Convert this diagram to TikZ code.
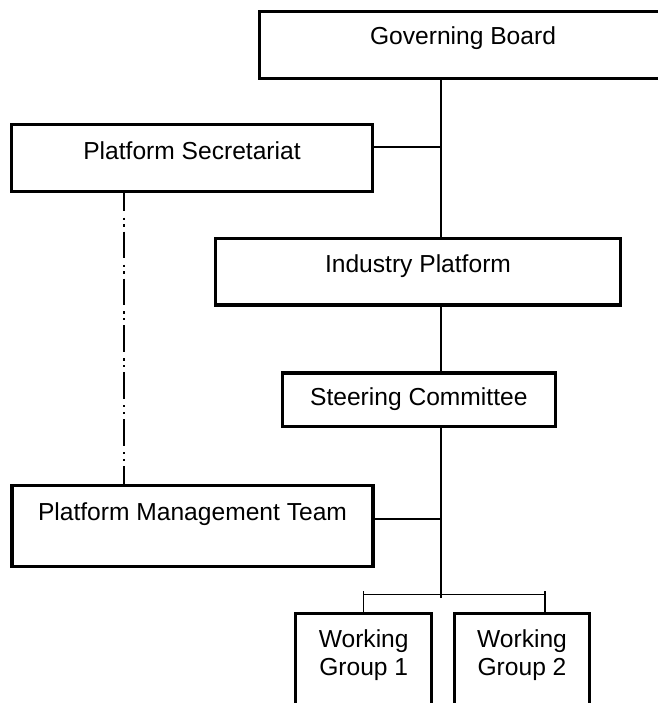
\documentclass[tikz,border=0pt]{standalone}
\usepackage{fontspec}
\setmainfont{Liberation Sans}
\begin{document}
\begin{tikzpicture}
  [x=1pt,y=-1pt,
   every node/.style={inner sep=0pt,anchor=base,font=\fontsize{24.6}{27.5}\selectfont},
   box/.style={draw,line width=3.4pt},
   link/.style={line width=1.5pt},
   bar/.style={line width=1.1pt},
   dashdotdot/.style={line width=1.8pt,
     dash pattern=on 26.7pt off 6.2pt on 2.2pt off 4.6pt on 2.2pt off 5pt,
     dash phase=8.7pt}]

  \useasboundingbox (0,0) rectangle (657,703);

  % boxes, placed on the baseline of their text
  \node [box,minimum width=407pt,text height=33.5pt,text depth=33.5pt] (GB) at (463,45) {Governing Board};
  \node [box,minimum width=361.4pt,text height=34.8pt,text depth=32.4pt] (PS) at (192,159.3) {Platform Secretariat};
  \node [box,minimum width=405.5pt,text height=33.3pt,text depth=33pt] (IP) at (418,272) {Industry Platform};
  \node [box,minimum width=273pt,text height=32.7pt,text depth=20.6pt] (SC) at (418.8,405.7) {Steering Committee};
  \node [box,minimum width=361pt,text height=34.7pt,text depth=46.3pt] (PMT) at (192.5,520) {Platform Management Team};
  \node [box,minimum width=136pt,text height=61.7pt,text depth=85pt] (WG1) at (363.7,675)
    {\begin{tabular}[b]{@{}c@{}}Working\\Group 1\end{tabular}};
  \node [box,minimum width=135.5pt,text height=61.7pt,text depth=85pt] (WG2) at (522,675)
    {\begin{tabular}[b]{@{}c@{}}Working\\Group 2\end{tabular}};

  % trunk and junctions
  \coordinate (trunk) at (441,0);
  \coordinate (jPS) at (441,147);
  \coordinate (jPMT) at (441,519);
  \coordinate (jWG) at (441,598.3);
  \coordinate (barL) at (363.7,594.5);
  \coordinate (barR) at (545,594.5);
  \coordinate (sec) at (124,0);

  \draw [link] (GB.south -| trunk) -- (IP.north -| trunk);
  \draw [link] (PS.east |- jPS) -- (jPS);
  \draw [link] (IP.south -| trunk) -- (SC.north -| trunk);
  \draw [link] (SC.south -| trunk) -- (jWG);
  \draw [link] (PMT.east |- jPMT) -- (jPMT);
  \draw [bar] (barL) -- (barR);
  \draw [bar] ([yshift=3.5pt]barL) -- (WG1.north);
  \draw [bar] ([yshift=3.5pt]barR) -- (WG2.north -| barR);
  \draw [dashdotdot] (PS.south -| sec) -- (PMT.north -| sec);
\end{tikzpicture}
\end{document}
